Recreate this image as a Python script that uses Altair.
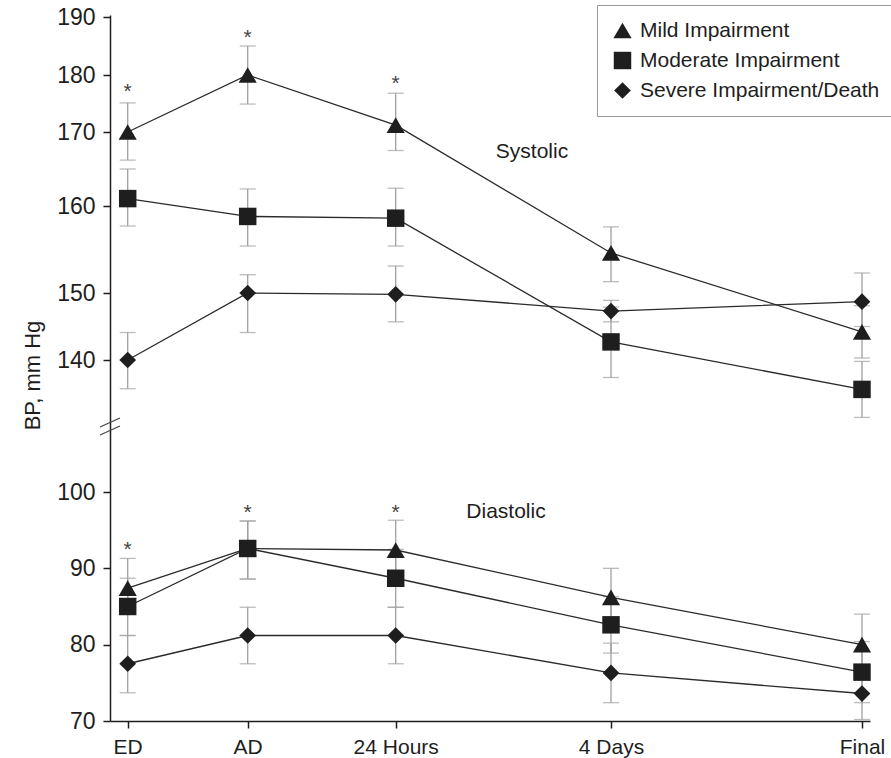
import altair as alt
import pandas as pd

# ---------------- data ----------------
times = ["ED", "AD", "24 Hours", "4 Days", "Final"]
time_idx = [0, 1, 2, 3, 4]
groups = ["Mild Impairment", "Moderate Impairment", "Severe Impairment/Death"]

# Systolic
sys_mild = [170.0, 180.0, 171.2, 154.6, 144.2]
sys_mild_lo = [166.2, 174.9, 167.5, 151.3, 140.3]
sys_mild_hi = [175.1, 185.0, 176.8, 157.6, 148.1]
sys_mod = [161.0, 158.8, 158.6, 142.7, 135.8]
sys_mod_lo = [157.7, 155.4, 155.4, 137.5, 131.8]
sys_mod_hi = [165.0, 162.3, 162.4, 147.9, 139.8]
sys_sev = [140.0, 150.0, 149.8, 147.3, 148.7]
sys_sev_lo = [135.9, 144.1, 145.7, 145.7, 145.0]
sys_sev_hi = [144.1, 152.1, 153.1, 148.9, 152.3]

# Diastolic
dia_mild = [87.4, 92.6, 92.4, 86.2, 80.0]
dia_mild_lo = [84.0, 88.6, 88.7, 82.4, 76.0]
dia_mild_hi = [91.3, 96.2, 96.3, 90.0, 84.0]
dia_mod = [85.0, 92.6, 88.7, 82.6, 76.4]
dia_mod_lo = [81.2, 88.6, 84.9, 78.9, 72.4]
dia_mod_hi = [88.7, 96.2, 92.5, 86.3, 80.4]
dia_sev = [77.5, 81.2, 81.2, 76.3, 73.6]
dia_sev_lo = [73.7, 77.5, 77.5, 72.4, 70.2]
dia_sev_hi = [81.2, 84.9, 84.9, 80.2, 77.0]

# significance markers
star_idx = [0, 1, 2, 0, 1, 2]
star_val = [177.9, 187.2, 179.3, 93.1, 97.9, 97.9]

panel_labels = ["Systolic", "Diastolic"]

y_ticks = [70, 80, 90, 100, 140, 150, 160, 170, 180, 190]

# ---------------- table ----------------
series = [
    ("Systolic", groups[0], sys_mild, sys_mild_lo, sys_mild_hi),
    ("Systolic", groups[1], sys_mod, sys_mod_lo, sys_mod_hi),
    ("Systolic", groups[2], sys_sev, sys_sev_lo, sys_sev_hi),
    ("Diastolic", groups[0], dia_mild, dia_mild_lo, dia_mild_hi),
    ("Diastolic", groups[1], dia_mod, dia_mod_lo, dia_mod_hi),
    ("Diastolic", groups[2], dia_sev, dia_sev_lo, dia_sev_hi),
]
rows = []
for panel, g, vals, los, his in series:
    for t, v, lo, hi in zip(time_idx, vals, los, his):
        rows.append({"t": t, "group": g, "panel": panel, "key": panel + g,
                     "bp": v, "lo": lo, "hi": hi})
df = pd.DataFrame(rows)
stars = pd.DataFrame({"t": star_idx, "v": star_val, "s": ["*"] * len(star_idx)})

FONT = "Liberation Sans"
INK = "#1e1e1e"
ERR = "#a0a0a0"

label_expr = "[" + ",".join("'" + s + "'" for s in times) + "][datum.value]"

x_scale = alt.Scale(domain=[-0.1475, 0, 1, 2, 3, 4, 4.032],
                    range=[0, 17.7, 137.7, 285.7, 501, 752, 760],
                    nice=False, zero=False)
y_scale = alt.Scale(domain=[70, 100, 108, 131, 140, 150, 160, 170, 180, 190, 190.3],
                    range=[706, 477, 416, 408, 345, 278, 191, 117, 60, 2, 0],
                    nice=False, zero=False)

x_enc = alt.X("t:Q", scale=x_scale,
              axis=alt.Axis(values=time_idx, labelExpr=label_expr, title=None,
                            grid=False, tickSize=7, labelPadding=8,
                            labelFontSize=21, labelFont=FONT, labelColor=INK))
x_plain = alt.X("t:Q", scale=x_scale)

y_enc = alt.Y("bp:Q", scale=y_scale,
              axis=alt.Axis(values=y_ticks, title="BP, mm Hg", grid=False,
                            tickSize=7, labelPadding=8, labelFontSize=23,
                            labelFont=FONT, labelColor=INK,
                            titleFont=FONT, titleFontSize=22, titleFontWeight="normal",
                            titleColor=INK, titleX=-66, titleY=360))

base = alt.Chart(df)

err_rule = base.mark_rule(color=ERR, strokeWidth=1.3).encode(
    x=x_enc, y=alt.Y("lo:Q", scale=y_scale), y2="hi:Q")
cap_lo = base.mark_tick(orient="horizontal", size=16, thickness=1.3, color=ERR).encode(
    x=x_plain, y=alt.Y("lo:Q", scale=y_scale))
cap_hi = base.mark_tick(orient="horizontal", size=16, thickness=1.3, color=ERR).encode(
    x=x_plain, y=alt.Y("hi:Q", scale=y_scale))

lines = base.mark_line(color="#2a2a2a", strokeWidth=1.3).encode(
    x=x_plain, y=y_enc, detail="key:N")

legend = alt.Legend(title=None, orient="none", legendX=487, legendY=-10,
                    padding=15, strokeColor="#9a9a9a", fillColor="white",
                    labelFont=FONT, labelFontSize=21, labelColor=INK, labelLimit=0,
                    rowPadding=8, labelOffset=7, symbolFillColor=INK,
                    symbolStrokeColor=INK, symbolStrokeWidth=0, symbolOpacity=1)

points = base.mark_point(filled=True, opacity=1, color=INK, strokeWidth=0).encode(
    x=x_plain, y=alt.Y("bp:Q", scale=y_scale),
    shape=alt.Shape("group:N", title=None,
                    scale=alt.Scale(domain=groups, range=["triangle-up", "square", "diamond"]),
                    legend=legend),
    size=alt.Size("group:N", title=None,
                  scale=alt.Scale(domain=groups, range=[330, 280, 360]),
                  legend=legend),
)

star_marks = alt.Chart(stars).mark_text(font=FONT, fontSize=21, color="#444",
                                        baseline="middle", dy=5).encode(
    x=x_plain, y=alt.Y("v:Q", scale=y_scale), text="s:N")

sys_label = alt.Chart(pd.DataFrame({"s": [panel_labels[0]]})).mark_text(
    font=FONT, fontSize=21, color=INK, align="center", baseline="middle").encode(
    text="s:N", x=alt.value(422), y=alt.value(137))
dia_label = alt.Chart(pd.DataFrame({"s": [panel_labels[1]]})).mark_text(
    font=FONT, fontSize=21, color=INK, align="center", baseline="middle").encode(
    text="s:N", x=alt.value(396), y=alt.value(497))

brk1 = alt.Chart(pd.DataFrame({"a": [0]})).mark_rule(color="#444", strokeWidth=1.2).encode(
    x=alt.value(-10), x2=alt.value(10), y=alt.value(412), y2=alt.value(403))
brk2 = alt.Chart(pd.DataFrame({"a": [0]})).mark_rule(color="#444", strokeWidth=1.2).encode(
    x=alt.value(-10), x2=alt.value(10), y=alt.value(420), y2=alt.value(411))

chart = alt.layer(err_rule, cap_lo, cap_hi, lines, points, star_marks,
                  sys_label, dia_label, brk1, brk2).properties(
    width=760, height=706,
    autosize=alt.AutoSizeParams(type="none"),
    padding={"left": 110, "top": 15, "right": 21, "bottom": 37},
    background="white",
).configure_view(stroke=None).configure_axis(
    domainColor=INK, domainWidth=1.5, tickColor=INK, tickWidth=1.5,
)

chart.save("out.html", embed_options={"renderer": "svg", "actions": False})
